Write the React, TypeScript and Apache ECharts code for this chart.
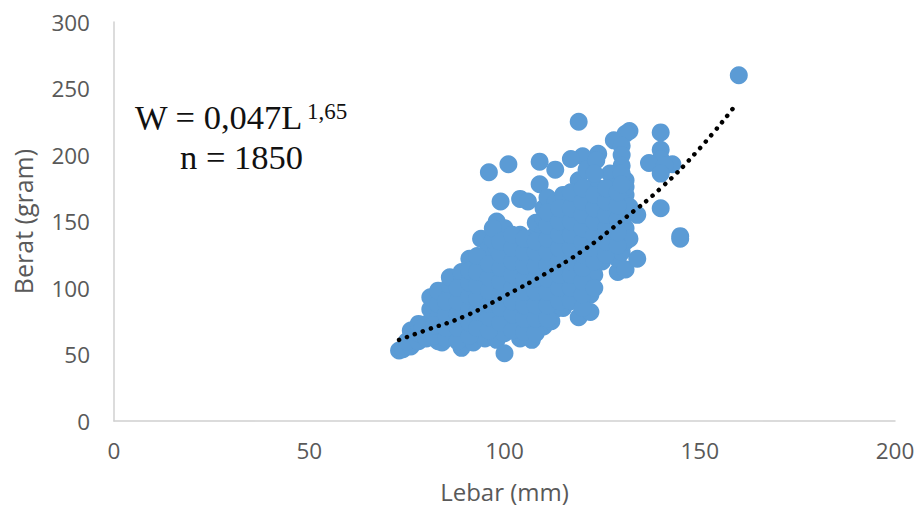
import React, { useEffect, useRef } from "react";
import * as echarts from "echarts";

const xTicks = [0, 50, 100, 150, 200];
const outliers: number[][] = [
  [160, 260], [119, 225], [140, 217], [132, 218], [131, 216], [128, 211], [140, 204], [140, 197],
  [137, 194], [143, 193], [141, 192], [140, 186], [140, 160], [145, 139], [145, 137],
  [124, 201], [120, 199], [117, 197], [130, 207], [130, 200], [130, 192], [96, 187], [101, 193],
  [109, 195], [113, 189], [109, 178], [104, 167], [106, 165], [99, 165],
];
const band70s: number[][] = [
  [73, 53], [74, 54], [76, 56], [75, 60], [76, 68], [78, 60], [78, 66], [78, 73], [80, 62], [80, 68],
  [81, 75], [81, 84], [81, 93], [83, 60], [84, 59], [83, 68], [83, 78], [83, 88], [83, 98],
];
const band80s: number[][] = [
  [86, 65], [86, 74], [86, 84], [86, 94], [86, 102], [86, 108], [89, 55], [89, 64], [89, 74], [89, 84],
  [89, 94], [89, 104], [89, 112], [92, 59], [92, 68], [92, 78], [92, 88], [92, 98], [92, 108], [91, 122],
  [94, 117], [94, 64], [94, 74],
];
const band90s: number[][] = [
  [95, 62], [95, 72], [95, 82], [95, 92], [95, 102], [95, 112], [95, 122], [94, 137], [96, 130],
  [98, 61], [98, 70], [98, 80], [98, 90], [98, 100], [98, 110], [98, 120], [98, 130], [98, 140], [98, 150],
  [100, 51], [100, 66], [101, 76], [101, 86], [101, 96], [101, 106], [101, 116], [101, 126], [101, 136], [100, 145],
];
const band100s: number[][] = [
  [104, 62], [104, 72], [104, 82], [104, 92], [104, 102], [104, 112], [104, 122], [104, 132], [104, 140],
  [107, 61], [107, 72], [107, 82], [107, 92], [107, 102], [107, 112], [107, 122], [107, 132], [108, 140], [108, 149],
  [110, 71], [110, 82], [110, 92], [110, 102], [110, 112], [110, 122], [110, 132], [110, 142], [110, 152], [110, 160],
  [111, 168], [112, 75], [113, 84],
];
const band110s: number[][] = [
  [113, 94], [113, 104], [113, 114], [113, 124], [113, 134], [113, 144], [113, 154], [113, 164],
  [115, 85], [116, 95], [116, 105], [116, 115], [116, 125], [116, 135], [116, 145], [116, 155], [116, 165], [115, 170],
  [119, 78], [119, 90], [119, 100], [119, 110], [119, 120], [119, 130], [119, 140], [119, 150], [119, 160], [119, 170], [119, 181],
];
const band120s: number[][] = [
  [122, 82], [122, 95], [122, 105], [122, 115], [122, 125], [122, 135], [122, 145], [122, 155], [122, 165], [122, 175], [121, 189],
  [123, 110], [123.5, 196], [124, 175], [125, 120], [125, 130], [125, 140], [125, 150], [125, 160], [125, 170],
  [127, 186], [128, 128], [128, 138], [128, 148], [128, 158], [128, 168], [128, 176], [129, 112], [129, 122],
];
const band130s: number[][] = [
  [131, 114], [130, 127], [131, 135], [131, 145], [131, 155], [131, 162], [131, 170], [131, 181], [131, 176],
  [132, 137], [134, 122], [134, 155], [132, 161], [130, 186],
];
const interiorLow: number[][] = [
  [79, 70], [82, 64], [82, 72], [85, 62], [85, 70], [85, 80], [85, 90], [88, 60], [88, 70], [88, 80], [88, 90], [88, 100],
  [91, 64], [91, 74], [91, 84], [91, 94], [91, 104], [91, 113], [93, 70], [93, 82], [93, 92], [93, 102], [93, 112], [93, 124],
  [96, 68], [96, 78], [96, 88], [96, 98], [96, 108], [96, 118], [97, 136], [97, 145],
  [99, 74], [99, 85], [99, 95], [99, 105], [99, 115], [99, 125], [99, 135], [102, 68], [102, 80], [102, 90], [102, 100],
  [102, 110], [102, 120], [102, 130], [102, 140],
];
const interiorHigh: number[][] = [
  [105, 67], [105, 77], [105, 87], [105, 97], [105, 107], [105, 117], [105, 127], [105, 137], [108, 66], [108, 77], [108, 87],
  [108, 97], [108, 107], [108, 117], [108, 127], [108, 135], [111, 77], [111, 87], [111, 97], [111, 107], [111, 117], [111, 127],
  [111, 137], [111, 147], [111, 157], [114, 90], [114, 100], [114, 110], [114, 120], [114, 130], [114, 140], [114, 150], [114, 160],
  [117, 90], [117, 100], [117, 110], [117, 120], [117, 130], [117, 140], [117, 150], [117, 160], [117, 172], [120, 85], [120, 95],
  [120, 105], [120, 115], [120, 125], [120, 135], [120, 145], [120, 155], [120, 165], [120, 175], [123, 100], [123, 120], [123, 130],
  [123, 140], [123, 150], [123, 160], [123, 170], [123, 186], [126, 125], [126, 135], [126, 145], [126, 155], [126, 165], [126, 175],
  [129, 132], [129, 142], [129, 152], [129, 162], [129, 172], [130, 178],
];
const points = [...outliers, ...band70s, ...band80s, ...band90s, ...band100s, ...band110s, ...band120s, ...band130s, ...interiorLow, ...interiorHigh];
const trend: number[][] = [
  [73, 61], [80, 68.4], [90, 79], [100, 94], [110, 110], [120, 128], [130, 150.6], [140, 175], [150, 205], [158.5, 235],
];

export default function App() {
  const ref = useRef<HTMLDivElement>(null);
  useEffect(() => {
    const chart = echarts.init(ref.current!, undefined, { renderer: "svg" });
    const labelColor = "#595959";
    const font = "Open Sans";
    chart.setOption({
      animation: false,
      backgroundColor: "#fff",
      grid: { left: 114, right: 24, top: 22, bottom: 87, containLabel: false, outerBoundsMode: "none" },
      xAxis: {
        type: "value", min: 0, max: 200, interval: 50,
        name: "Lebar (mm)", nameLocation: "middle", nameGap: 58,
        nameTextStyle: { fontFamily: font, fontSize: 24, color: labelColor },
        axisLine: { show: true, lineStyle: { color: "#d0d0d0", width: 1.5 } },
        axisTick: { show: false }, splitLine: { show: false },
        axisLabel: { fontFamily: font, fontSize: 22.5, color: labelColor, margin: 18, hideOverlap: false,
          showMinLabel: true, showMaxLabel: true, formatter: (v: number) => (xTicks.includes(v) ? String(v) : "") },
      },
      yAxis: {
        type: "value", min: 0, max: 300, interval: 50,
        name: "Berat (gram)", nameLocation: "middle", nameGap: 79,
        nameTextStyle: { fontFamily: font, fontSize: 25, color: labelColor },
        axisLine: { show: true, lineStyle: { color: "#d0d0d0", width: 1.5 } },
        axisTick: { show: false }, splitLine: { show: false },
        axisLabel: { fontFamily: font, fontSize: 22.5, color: labelColor, margin: 24 },
      },
      series: [
        { type: "scatter", data: points, symbol: "circle", symbolSize: 18,
          itemStyle: { color: "#5b9bd5", opacity: 1 } },
        { type: "line", data: trend, smooth: true, symbol: "none", z: 5,
          lineStyle: { color: "#000", width: 4.5, type: [0.1, 8.3], cap: "round" } },
      ],
      graphic: [
        { type: "text", x: 135, y: 99, style: { text: "W = 0,047L", fontFamily: "Liberation Serif", fontSize: 34.5, fill: "#111" } },
        { type: "text", x: 307, y: 100, style: { text: "1,65", fontFamily: "Liberation Serif", fontSize: 23, fill: "#111" } },
        { type: "text", x: 180, y: 139, style: { text: "n = 1850", fontFamily: "Liberation Serif", fontSize: 34.5, fill: "#111" } },
      ],
    });
    return () => chart.dispose();
  }, []);
  return <div ref={ref} style={{ position: "fixed", left: 0, top: 0, width: 919, height: 508 }} />;
}
